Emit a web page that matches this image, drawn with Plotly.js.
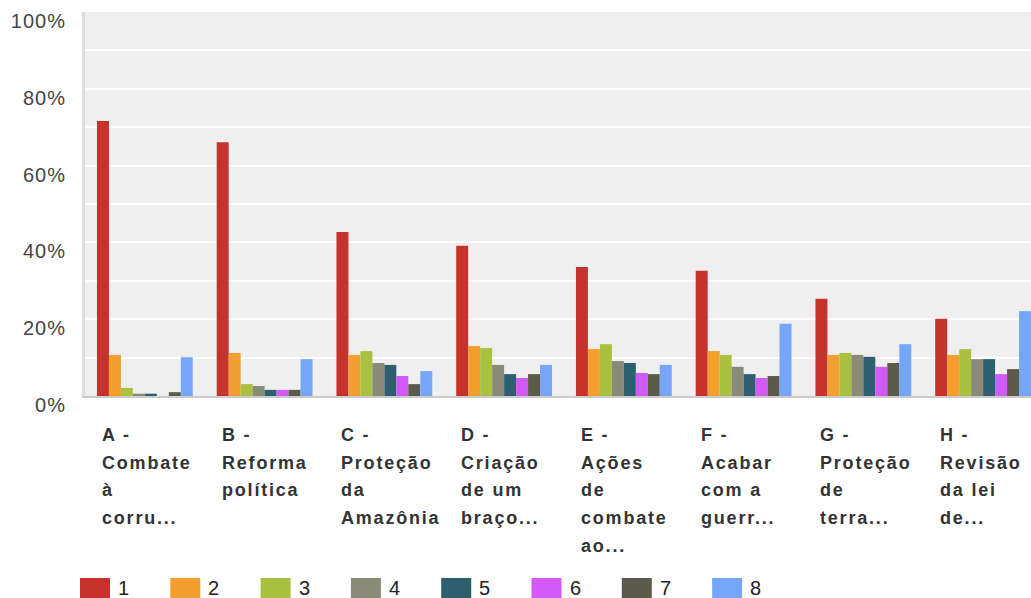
<!DOCTYPE html>
<html>
<head>
<meta charset="utf-8">
<script src="https://cdn.plot.ly/plotly-3.0.1.min.js"></script>
<style>
html,body{margin:0;padding:0;background:#fff;overflow:hidden;}
#chart{width:1031px;height:598px;}
.annotation-text{letter-spacing:1.8px;}
.ytick text{letter-spacing:1px;}
</style>
</head>
<body>
<div id="chart"></div>
<script>
// Categories (x tick labels, line breaks as \n)
const categories = ["A","B","C","D","E","F","G","H"];
const tickLabels = [
  "A -\nCombate\nà\ncorru...",
  "B -\nReforma\npolítica",
  "C -\nProteção\nda\nAmazônia",
  "D -\nCriação\nde um\nbraço...",
  "E -\nAções\nde\ncombate\nao...",
  "F -\nAcabar\ncom a\nguerr...",
  "G -\nProteção\nde\nterra...",
  "H -\nRevisão\nda lei\nde..."
];
const seriesNames = ["1","2","3","4","5","6","7","8"];
// Values in percent, one array per series (A..H)
const s1 = [71.6, 66.1, 42.7, 39.1, 33.6, 32.6, 25.3, 20.1];
const s2 = [10.7, 11.2, 10.7, 13.0, 12.2, 11.7, 10.7, 10.7];
const s3 = [2.1, 3.1, 11.7, 12.5, 13.5, 10.7, 11.2, 12.2];
const s4 = [0.6, 2.6, 8.6, 8.1, 9.1, 7.6, 10.7, 9.6];
const s5 = [0.6, 1.6, 8.1, 5.7, 8.6, 5.7, 10.2, 9.6];
const s6 = [0.0, 1.6, 5.2, 4.7, 6.0, 4.7, 7.6, 5.7];
const s7 = [1.0, 1.6, 3.1, 5.7, 5.7, 5.2, 8.6, 7.0];
const s8 = [10.1, 9.6, 6.5, 8.1, 8.1, 18.8, 13.5, 22.1];
const seriesValues = [s1, s2, s3, s4, s5, s6, s7, s8];
const yTickVals = [0, 20, 40, 60, 80, 100];
const yTickText = ["0%", "20%", "40%", "60%", "80%", "100%"];

const colors = ["#C6332D","#F29F2F","#A8C13F","#8A8A78","#2E5F6E","#D35AF8","#5C5A4A","#75A6FC"];
const FONT = "Liberation Sans, Arial, Helvetica, sans-serif";

const traces = seriesValues.map((vals, i) => ({
  type: "bar",
  name: seriesNames[i],
  x: categories,
  y: vals,
  marker: {color: colors[i], line: {width: 0}},
  hoverinfo: "none",
  showlegend: false
}));

// Multi-line, left-aligned category labels as annotations
const annotations = [];
const LINE_H = 27.7;
tickLabels.forEach((lab, ci) => {
  lab.split("\n").forEach((line, li) => {
    annotations.push({
      xref: "x", yref: "paper",
      x: categories[ci], y: 0,
      xanchor: "left", yanchor: "middle",
      xshift: -45, yshift: -(39 + LINE_H * li),
      text: line, showarrow: false, align: "left",
      font: {family: FONT, size: 18, color: "#333333", weight: "bold"}
    });
  });
});

// Legend drawn as pixel-sized swatches + labels below the plot
const shapes = [];
const LEG_STEP = 90.3;
seriesNames.forEach((nm, i) => {
  const x0 = -5 + LEG_STEP * i;
  shapes.push({
    type: "rect", xref: "paper", yref: "paper",
    xsizemode: "pixel", ysizemode: "pixel",
    xanchor: 0, yanchor: 0,
    x0: x0, x1: x0 + 30, y0: -182, y1: -212,
    fillcolor: colors[i], line: {width: 0}, layer: "above"
  });
  annotations.push({
    xref: "paper", yref: "paper", x: 0, y: 0,
    xanchor: "left", yanchor: "middle",
    xshift: 31 + LEG_STEP * i, yshift: -192,
    text: nm, showarrow: false,
    font: {family: FONT, size: 20, color: "#222222"}
  });
});

const layout = {
  width: 1031, height: 598,
  margin: {l: 85, r: 0, t: 12, b: 202, pad: 0},
  paper_bgcolor: "#ffffff",
  plot_bgcolor: "#efefef",
  barmode: "group",
  bargap: 0.2,
  bargroupgap: 0,
  showlegend: false,
  xaxis: {
    type: "category",
    range: [-0.5, 7.40],
    showticklabels: false,
    showgrid: false,
    zeroline: false,
    showline: true, linecolor: "#cccccc", linewidth: 2,
    ticks: "", fixedrange: true
  },
  yaxis: {
    range: [0, 100],
    tickvals: yTickVals,
    ticktext: yTickText,
    showgrid: true, gridcolor: "#ffffff", gridwidth: 2,
    minor: {dtick: 10, tick0: 0, showgrid: true, gridcolor: "#ffffff", gridwidth: 2},
    zeroline: false,
    showline: true, linecolor: "#dddddd", linewidth: 3,
    ticks: "", ticklabelstandoff: 12, ticklabelshift: 9,
    tickfont: {family: FONT, size: 20, color: "#444444"},
    fixedrange: true
  },
  shapes: shapes,
  annotations: annotations,
  hovermode: false
};

Plotly.newPlot("chart", traces, layout, {displayModeBar: false, staticPlot: true});
</script>
</body>
</html>
